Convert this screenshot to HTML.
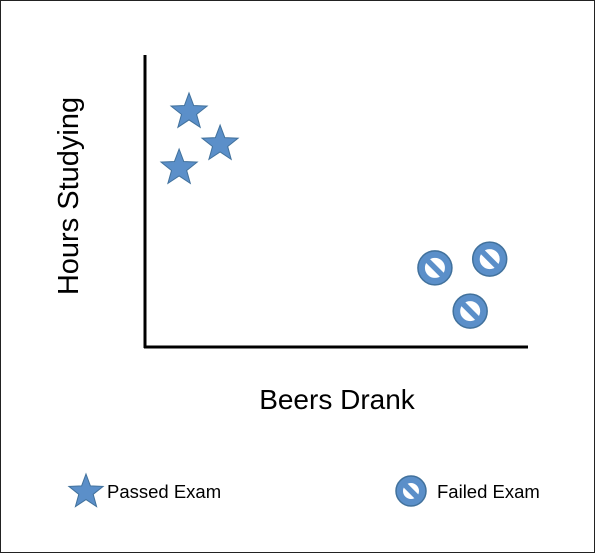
<!DOCTYPE html>
<html><head><meta charset="utf-8"><style>
html,body{margin:0;padding:0;background:#fff;}
svg{display:block;font-family:"Liberation Sans",sans-serif;}
</style></head><body>
<svg id="chart" width="595" height="553">
<rect x="0.5" y="0.5" width="594" height="552" fill="#fff" stroke="#222"/>
<line x1="145" y1="55" x2="145" y2="348" stroke="#000" stroke-width="3"/>
<line x1="144" y1="347" x2="528" y2="347" stroke="#000" stroke-width="3"/>
<text x="337" y="409" font-size="28" text-anchor="middle" fill="#000">Beers Drank</text>
<text transform="translate(78,196) rotate(-90)" font-size="29" text-anchor="middle" fill="#000">Hours Studying</text>
<g id="marks"></g>
<g id="legend">
<g id="leg-star"></g>
<text x="107" y="498" font-size="18.5" fill="#000">Passed Exam</text>
<g id="leg-fail"></g>
<text x="437" y="498" font-size="18.5" fill="#000">Failed Exam</text>
</g>
</svg>
<script>
const passedX = [1.15, 1.96, 0.89];
const passedY = [8.05, 6.95, 6.13];
const failedX = [7.57, 9.0, 8.49];
const failedY = [2.71, 3.01, 1.23];

const NS = "http://www.w3.org/2000/svg";
function xs(v){ return 145 + v * 38.3; }
function ys(v){ return 347 - v * 29.2; }
function starPath(cx, cy, R){
  const r = R * 0.42; let d = "";
  for (let i = 0; i < 10; i++) {
    const a = -Math.PI/2 + i * Math.PI/5;
    const rr = i % 2 ? r : R;
    d += (i ? "L" : "M") + (cx + rr*Math.cos(a)).toFixed(1) + "," + (cy + rr*Math.sin(a)).toFixed(1);
  }
  return d + "Z";
}
function addStar(parent, cx, cy, R){
  const p = document.createElementNS(NS, "path");
  p.setAttribute("d", starPath(cx, cy, R));
  p.setAttribute("fill", "#5b8fc9");
  p.setAttribute("stroke", "#41719c");
  p.setAttribute("stroke-width", "1");
  
  
  parent.appendChild(p);
}
function addNo(parent, cx, cy, r){
  const g = document.createElementNS(NS, "g");
  
  
  const c = document.createElementNS(NS, "circle");
  c.setAttribute("cx", cx); c.setAttribute("cy", cy); c.setAttribute("r", r - 3.5);
  c.setAttribute("fill", "#fff"); c.setAttribute("stroke", "#5b8fc9"); c.setAttribute("stroke-width", "7");
  g.appendChild(c);
  const o = document.createElementNS(NS, "circle");
  o.setAttribute("cx", cx); o.setAttribute("cy", cy); o.setAttribute("r", r);
  o.setAttribute("fill", "none"); o.setAttribute("stroke", "#41719c"); o.setAttribute("stroke-width", "1.5");
  g.appendChild(o);
  const k = (r - 4) * 0.72;
  const l = document.createElementNS(NS, "line");
  l.setAttribute("x1", cx - k); l.setAttribute("y1", cy - k);
  l.setAttribute("x2", cx + k); l.setAttribute("y2", cy + k);
  l.setAttribute("stroke", "#5b8fc9"); l.setAttribute("stroke-width", "5.5");
  g.appendChild(l);
  parent.appendChild(g);
}
const marks = document.getElementById("marks");
for (let i = 0; i < passedX.length; i++) addStar(marks, xs(passedX[i]), ys(passedY[i]), 19);
for (let i = 0; i < failedX.length; i++) addNo(marks, xs(failedX[i]), ys(failedY[i]), 17);
addStar(document.getElementById("leg-star"), 86, 492, 18);
addNo(document.getElementById("leg-fail"), 411, 491, 15);
</script>
</body></html>
